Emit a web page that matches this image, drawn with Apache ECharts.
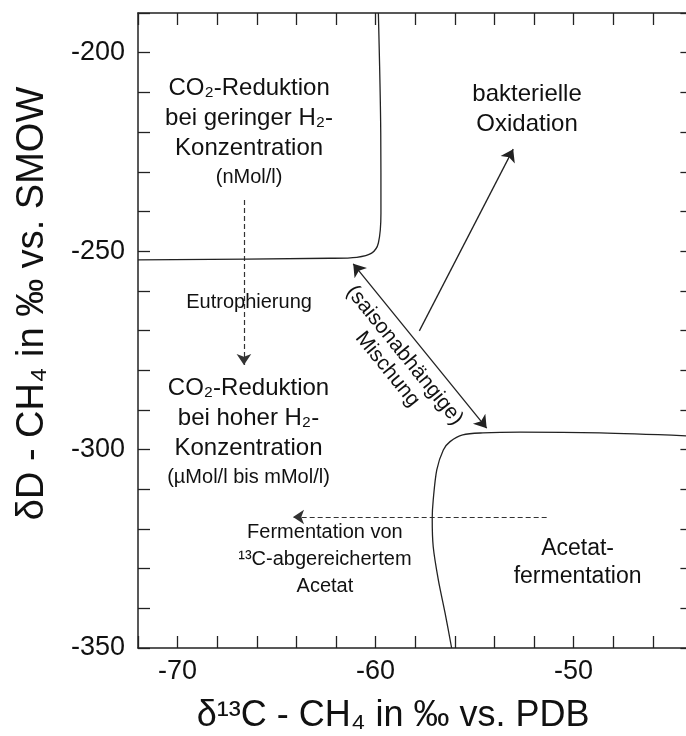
<!DOCTYPE html>
<html>
<head>
<meta charset="utf-8">
<script src="https://cdn.jsdelivr.net/npm/echarts@6/dist/echarts.min.js"></script>
<style>
  html, body { margin: 0; padding: 0; background: #fff; }
  #chart { width: 686px; height: 736px; }
</style>
</head>
<body>
<div id="chart"></div>
<script>
// axes (δ13C on x, δD on y)
const xRange = [-72, -44]
const yRange = [-350, -190]
const xLabels = [-70, -60, -50]
const yLabels = [-350, -300, -250, -200]

// field boundaries, [δ13C, δD]
const upperBoundary = [
  [-72, -252.2], [-62.3, -251.8], [-60.95, -251.55], [-60.2, -250.5],
  [-59.86, -247.95], [-59.73, -240.4], [-59.74, -220.2], [-59.86, -190]
]
const lowerBoundary = [
  [-44, -296.6], [-48.67, -295.8], [-52.7, -295.6], [-54.58, -295.8],
  [-55.6, -296.3], [-56.24, -298.0], [-56.58, -300.1], [-56.91, -305.1],
  [-57.09, -312.7], [-57.14, -317.3], [-57.09, -324.5], [-56.83, -332.9],
  [-56.49, -341.2], [-56.16, -350]
]

// arrows, [from, to]
const oxidationArrow = [[-57.79, -270.1], [-53.05, -224.3]]
const mixingArrow = [[-61.13, -253.2], [-54.39, -294.6]]
const dashedArrows = [
  [[-66.65, -237.1], [-66.65, -278.7]],
  [[-51.36, -317.0], [-64.17, -317.0]]
]

// text notes, placed at [δ13C, δD]
const notes = [
  { pos: [-66.39, -220.06], kind: 'big', main: ['CO₂-Reduktion', 'bei geringer H₂-', 'Konzentration'], sub: ['(nMol/l)'] },
  { pos: [-66.39, -263.0], kind: 'small', main: [], sub: ['Eutrophierung'] },
  { pos: [-66.42, -295.6], kind: 'big', main: ['CO₂-Reduktion', 'bei hoher H₂-', 'Konzentration'], sub: ['(µMol/l bis mMol/l)'] },
  { pos: [-52.35, -214.2], kind: 'big', main: ['bakterielle', 'Oxidation'], sub: [] },
  { pos: [-62.56, -327.8], kind: 'ferm', main: ['Fermentation von', '¹³C-abgereichertem', 'Acetat'], sub: [] },
  { pos: [-49.8, -328.5], kind: 'acet', main: ['Acetat-', 'fermentation'], sub: [] },
  { pos: [-58.97, -278.0], kind: 'mix', main: ['(saisonabhängige)', 'Mischung'], sub: [] }
]

const FONT = '"Liberation Sans", Arial, Helvetica, sans-serif'
const INK = '#111'

const noteStyles = {
  big: { m: { fontSize: 24, lineHeight: 30 }, s: { fontSize: 20, lineHeight: 28 } },
  small: { m: { fontSize: 20, lineHeight: 26 }, s: { fontSize: 20, lineHeight: 26 } },
  ferm: { m: { fontSize: 20, lineHeight: 27 }, s: { fontSize: 20, lineHeight: 27 } },
  acet: { m: { fontSize: 23, lineHeight: 28 }, s: { fontSize: 23, lineHeight: 28 } },
  mix: { m: { fontSize: 21, lineHeight: 22 }, s: { fontSize: 21, lineHeight: 22 }, rotate: -51 }
}

function noteLabel(n) {
  const st = noteStyles[n.kind]
  const lines = n.main.map(t => '{m|' + t + '}').concat(n.sub.map(t => '{s|' + t + '}'))
  return {
    show: true,
    position: 'inside',
    rotate: st.rotate || 0,
    align: 'center',
    verticalAlign: 'middle',
    color: INK,
    opacity: 1,
    textBorderWidth: 0,
    formatter: lines.join('\n'),
    rich: {
      m: { ...st.m, color: INK, fontFamily: FONT, align: 'center', textBorderWidth: 0 },
      s: { ...st.s, color: INK, fontFamily: FONT, align: 'center', textBorderWidth: 0 }
    }
  }
}

function makeAxis(position, withLabels, labels) {
  const horizontal = position === 'bottom' || position === 'top'
  const range = horizontal ? xRange : yRange
  return {
    type: 'value',
    position,
    min: range[0],
    max: range[1],
    interval: horizontal ? 2 : 10,
    axisLine: { show: true, onZero: false, lineStyle: { color: '#222', width: 1.5 } },
    axisTick: { show: true, inside: true, length: 12, lineStyle: { color: '#222', width: 1.3 } },
    splitLine: { show: false },
    axisLabel: {
      show: withLabels,
      fontSize: 27,
      color: INK,
      fontFamily: FONT,
      margin: horizontal ? 10 : 13,
      formatter: v => labels && labels.some(l => Math.abs(l - v) < 1e-6) ? String(v) : ''
    }
  }
}

const chart = echarts.init(document.getElementById('chart'), null, { renderer: 'canvas' })

const xBottom = makeAxis('bottom', true, xLabels)
Object.assign(xBottom, {
  name: 'δ¹³C - CH₄ in ‰ vs. PDB',
  nameLocation: 'middle',
  nameGap: 50,
  nameTextStyle: { fontSize: 36, color: INK, fontFamily: FONT, padding: [0, 44, 0, 0] }
})
const yLeft = makeAxis('left', true, yLabels)
Object.assign(yLeft, {
  name: 'δD - CH₄ in ‰ vs. SMOW',
  nameLocation: 'middle',
  nameGap: 86,
  nameTextStyle: { fontSize: 38, color: INK, fontFamily: FONT, padding: [0, 0, 0, 54] }
})

const curveStyle = { color: '#222', width: 1.3 }

chart.setOption({
  animation: false,
  backgroundColor: '#fff',
  grid: { left: 138, width: 554.4, top: 13, bottom: 88, outerBoundsMode: 'none', containLabel: false },
  xAxis: [xBottom, makeAxis('top', false)],
  yAxis: [yLeft, makeAxis('right', false)],
  series: [
    {
      type: 'line', data: upperBoundary, smooth: 0.3, symbol: 'none',
      lineStyle: curveStyle, xAxisIndex: 0, yAxisIndex: 0
    },
    {
      type: 'line', data: lowerBoundary, smooth: 0.3, symbol: 'none',
      lineStyle: curveStyle, xAxisIndex: 0, yAxisIndex: 0
    },
    {
      type: 'lines', coordinateSystem: 'cartesian2d',
      symbol: ['none', 'arrow'], symbolSize: 12,
      lineStyle: { color: '#222', width: 1.3, opacity: 1 },
      data: [{ coords: oxidationArrow }]
    },
    {
      type: 'lines', coordinateSystem: 'cartesian2d',
      symbol: ['arrow', 'arrow'], symbolSize: 12,
      lineStyle: { color: '#222', width: 1.3, opacity: 1 },
      data: [{ coords: mixingArrow }]
    },
    {
      type: 'lines', coordinateSystem: 'cartesian2d',
      symbol: ['none', 'arrow'], symbolSize: 11,
      lineStyle: { color: '#333', width: 1.2, type: [5, 3], opacity: 1 },
      data: dashedArrows.map(c => ({ coords: c }))
    },
    {
      type: 'scatter',
      symbolSize: 1,
      itemStyle: { color: 'rgba(0,0,0,0)' },
      z: 5,
      data: notes.map(n => ({ value: n.pos, label: noteLabel(n) }))
    }
  ]
})
</script>
</body>
</html>
